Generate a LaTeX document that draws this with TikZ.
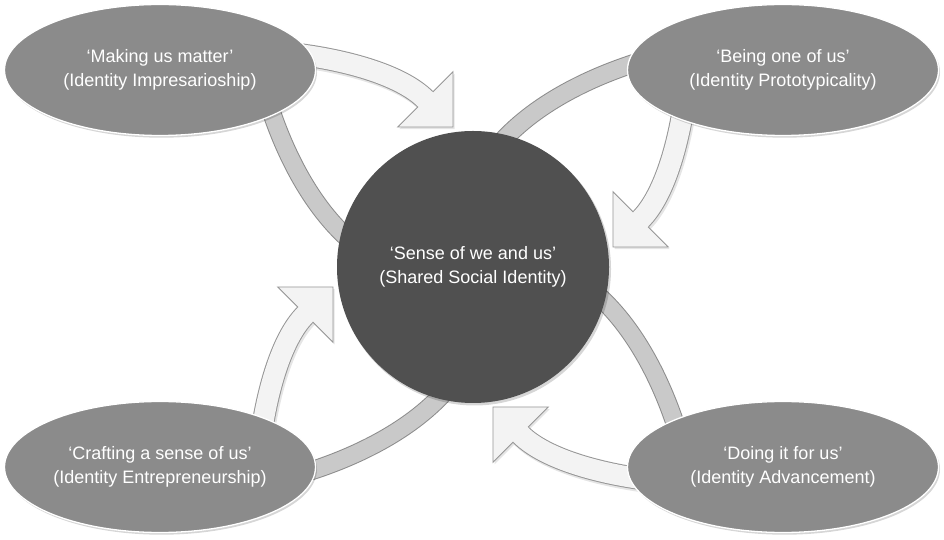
\documentclass[tikz,border=0pt]{standalone}
\usepackage{fontspec}
\setmainfont{Liberation Sans}
\usetikzlibrary{shapes.geometric}
\definecolor{ellfill}{RGB}{139,139,139}
\definecolor{circfill}{RGB}{80,80,80}
\definecolor{lightfill}{RGB}{243,243,243}
\definecolor{lightline}{RGB}{150,150,150}
\definecolor{bandfill}{RGB}{201,201,201}
\definecolor{bandline}{RGB}{140,140,140}
\tikzset{
  ellnode/.style={ellipse, minimum width=311pt, minimum height=131pt, inner sep=0pt,
    fill=ellfill, draw=white, line width=1.3pt},
  hubnode/.style={circle, minimum size=272pt, inner sep=0pt, fill=circfill},
  lbl/.style={text=white, align=center, inner sep=0pt, font=\fontsize{18}{23.5}\selectfont},
  shade/.style={fill=black, opacity=0.16},
  bandout/.style={draw=bandline, line width=19pt},
  bandin/.style={draw=bandfill, line width=17pt},
  bodyout/.style={draw=lightline, line width=22.5pt},
  bodyin/.style={draw=lightfill, line width=20.5pt},
  headtri/.style={fill=lightfill, draw=lightline, line width=0.9pt, line join=miter},
}
\begin{document}
\begin{tikzpicture}[x=1pt,y=1pt]
\useasboundingbox (0,0) rectangle (944,540);
\fill[white] (0,0) rectangle (944,540);
% grey bands (behind everything)
\foreach \r in {0,-90,-180,-270}{
  \begin{scope}[shift={(473,273)}, rotate=\r]
    \coordinate (bs) at (-207,172);
    \coordinate (be) at (-115,20);
    \draw[bandout] (bs) .. controls (-190,115) and (-160,55) .. (be);
    \draw[bandin] (bs) .. controls (-190,115) and (-160,55) .. (be);
  \end{scope}
}
% light arrows: shadows
\foreach \r in {0,-90,-180,-270}{
  \begin{scope}[shift={(474.5,270.8)}, rotate=\r]
    \draw[black, opacity=0.10, line width=22.5pt] (-185,214) .. controls (-130,208) and (-72.6,192.6) .. (-47.6,167.6);
    \fill[black, opacity=0.10] (-20,140) -- (-20,195.2) -- (-75.2,140) -- cycle;
  \end{scope}
}
% light arrows
\foreach \r in {0,-90,-180,-270}{
  \begin{scope}[shift={(473,273)}, rotate=\r]
    \coordinate (as) at (-185,214);
    \coordinate (ab) at (-47.6,167.6);
    \coordinate (at1) at (-20,140);
    \draw[bodyout] (as) .. controls (-130,208) and (-72.6,192.6) .. (ab);
    \draw[bodyin] (as) .. controls (-130,208) and (-72.6,192.6) .. (ab);
    \draw[headtri] (at1) -- (-20,195.2) -- (-75.2,140) -- cycle;
    \draw[draw=lightfill, line width=20.5pt] (-48.3,168.3) -- (-45.5,165.5);
  \end{scope}
}
% ellipse shadows
\fill[shade] (161.5,467.8) ellipse [x radius=155.5, y radius=65.5];
\fill[shade] (784.5,467.8) ellipse [x radius=155.5, y radius=65.5];
\fill[shade] (161.5,70.8) ellipse [x radius=155.5, y radius=65.5];
\fill[shade] (784.5,70.8) ellipse [x radius=155.5, y radius=65.5];
% ellipses
\node[ellnode] (tl) at (160,470) {};
\node[ellnode] (tr) at (783,470) {};
\node[ellnode] (bl) at (160,73) {};
\node[ellnode] (br) at (783,73) {};
\node[lbl] (tlt) at (tl) {‘Making us matter’\\(Identity Impresarioship)};
\node[lbl] (trt) at (tr) {‘Being one of us’\\(Identity Prototypicality)};
\node[lbl] (blt) at (bl) {‘Crafting a sense of us’\\(Identity Entrepreneurship)};
\node[lbl] (brt) at (br) {‘Doing it for us’\\(Identity Advancement)};
% hub
\fill[shade] (474.5,271) circle [radius=136.5];
\node[hubnode] (hub) at (473,273) {};
\node[lbl] (hubt) at (hub) {‘Sense of we and us’\\(Shared Social Identity)};
\end{tikzpicture}
\end{document}
